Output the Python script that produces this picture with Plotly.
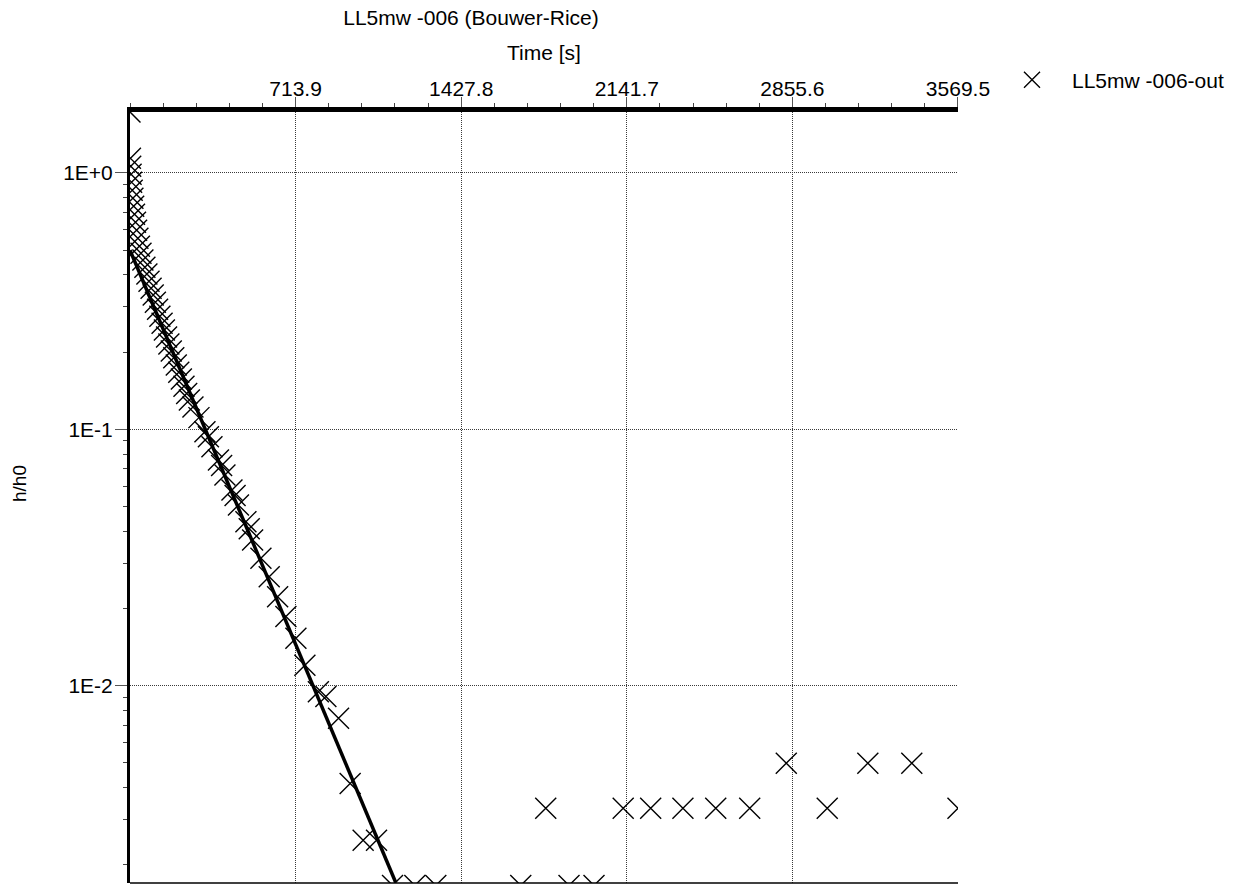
import plotly.graph_objects as go

# Slug-test recovery record: elapsed time [s] and normalised head h/h0
time_s = [
    0.0, 1.7, 3.0, 4.7, 6.9, 9.5, 12.5, 15.9, 19.4, 23.7, 28.4, 34.0, 40.5,
    47.4, 55.6, 64.2, 72.8, 81.9, 90.9, 100.0, 109.4, 118.9, 128.8, 138.3,
    148.2, 157.7, 167.6, 177.9, 188.7, 199.5, 210.2, 221.4, 232.7, 244.3,
    255.9, 271.4, 297.3, 323.1, 338.0, 353.3, 381.3, 395.0, 409.3, 439.5,
    453.0, 467.5, 499.8, 514.0, 528.6, 564.4, 600.2, 636.4, 672.1, 715.2,
    754.0, 812.1, 844.4, 899.1, 949.1, 1005.1, 1062.8, 1131.8, 1227.9,
    1318.4, 1684.6, 1792.3, 1892.6, 2000.4, 2126.2, 2244.7, 2383.8, 2525.2,
    2671.7, 2829.3, 3005.9, 3180.9, 3370.4, 3569.5,
]
h_ratio = [
    1.73, 1.141, 1.062, 0.988, 0.920, 0.856, 0.797, 0.742, 0.690, 0.642,
    0.598, 0.556, 0.518, 0.486, 0.457, 0.429, 0.403, 0.378, 0.355, 0.334,
    0.313, 0.294, 0.276, 0.259, 0.244, 0.229, 0.215, 0.202, 0.190, 0.178,
    0.167, 0.157, 0.147, 0.138, 0.130, 0.122, 0.111, 0.0978, 0.0935, 0.0855,
    0.0758, 0.0722, 0.0663, 0.0579, 0.0552, 0.0506, 0.0436, 0.0409, 0.0370,
    0.0314, 0.0266, 0.0222, 0.0186, 0.0153, 0.0120, 0.00945, 0.00906,
    0.00746, 0.00415, 0.00249, 0.00249, 0.00166, 0.00166, 0.00166, 0.00166,
    0.00332, 0.00166, 0.00166, 0.00332, 0.00332, 0.00332, 0.00332, 0.00332,
    0.00498, 0.00332, 0.00498, 0.00498, 0.00332,
]

# Bouwer-Rice straight-line fit (start and end of the drawn segment)
fit_time = [0.0, 1146.0]
fit_h = [0.4995, 0.0017]

x_ticks = [713.9, 1427.8, 2141.7, 2855.6, 3569.5]
x_tick_labels = ["713.9", "1427.8", "2141.7", "2855.6", "3569.5"]
y_ticks = [1.0, 0.1, 0.01]
y_tick_labels = ["1E+0", "1E-1", "1E-2"]
y_minor = [m * d for d in (0.001, 0.01, 0.1) for m in range(2, 10)]

FONT = "Arial, Liberation Sans, sans-serif"

fig = go.Figure()
fig.add_trace(go.Scatter(
    x=time_s, y=h_ratio, mode="markers", name="LL5mw -006-out",
    marker=dict(symbol="x-thin", size=21, color="black",
                line=dict(width=1.4, color="black")),
))
fig.add_trace(go.Scatter(
    x=fit_time, y=fit_h, mode="lines", showlegend=False,
    line=dict(color="black", width=3.5),
))

grid = dict(showgrid=True, gridcolor="#3a3a3a", gridwidth=1, griddash="1px,1px")

fig.update_layout(
    width=1244, height=885,
    margin=dict(l=130, r=286, t=112, b=2, autoexpand=False),
    paper_bgcolor="white", plot_bgcolor="white",
    font=dict(family=FONT, color="black", size=21),
    title=dict(text="LL5mw -006 (Bouwer-Rice)", x=471 / 1244, xref="container",
               xanchor="center", y=1 - 17.5 / 885, yanchor="middle",
               font=dict(size=21)),
    xaxis=dict(
        side="top", range=[0, 3569.6], tickmode="array",
        tickvals=x_ticks, ticktext=x_tick_labels,
        ticks="outside", ticklen=10, tickcolor="#555", tickwidth=1,
        ticklabelstandoff=-7,
        showline=True, linewidth=5, linecolor="black", zeroline=False,
        tickfont=dict(size=21),
        title=dict(text="Time [s]", font=dict(size=21), standoff=12),
        minor=dict(ticks="outside", ticklen=4, tick0=0, dtick=142.78,
                   tickcolor="#444", showgrid=False),
        **grid,
    ),
    yaxis=dict(
        type="log", range=[-2.7704, 0.2378], tickmode="array",
        tickvals=y_ticks, ticktext=y_tick_labels,
        ticks="outside", ticklen=12, tickcolor="#555", tickwidth=1,
        ticklabelstandoff=-2,
        showline=True, linewidth=3, linecolor="black", zeroline=False,
        tickfont=dict(size=21),
        minor=dict(ticks="outside", ticklen=4, tickmode="array",
                   tickvals=y_minor, tickcolor="#444", showgrid=False),
        **grid,
    ),
    showlegend=True,
    legend=dict(x=(992 - 130) / 828, y=1 + (112 - 80) / 771,
                xanchor="left", yanchor="middle", bgcolor="rgba(0,0,0,0)",
                font=dict(size=21), itemwidth=70),
    annotations=[dict(text="h/h0", textangle=-90, showarrow=False,
                      xref="paper", yref="paper",
                      x=(20 - 130) / 828, y=(883 - 484) / 771,
                      xanchor="center", yanchor="middle",
                      font=dict(size=19))],
    shapes=[dict(type="line", xref="paper", yref="paper", x0=0, x1=1,
                 y0=0, y1=0, line=dict(color="black", width=1.5))],
)

fig.write_html("out.html")
